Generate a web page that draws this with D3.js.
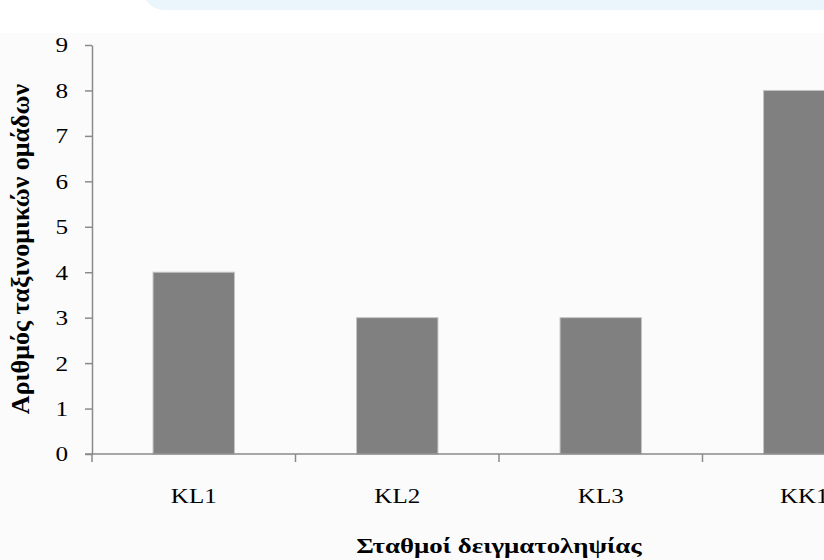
<!DOCTYPE html>
<html>
<head>
<meta charset="utf-8">
<script src="https://cdn.jsdelivr.net/npm/d3@7"></script>
<style>
  body { margin: 0; background: #ffffff; }
  svg { display: block; }
</style>
</head>
<body>
<div id="chart"></div>
<script>
(function () {
    // data
    var stations = ["KL1", "KL2", "KL3", "KK1"];
    var taxaCount = [4, 3, 3, 8];
    var yTickValues = [0, 1, 2, 3, 4, 5, 6, 7, 8, 9];
    var xTitle = "Σταθμοί δειγματοληψίας";
    var yTitle = "Αριθμός ταξινομικών ομάδων";

    var width = 824, height = 560;
    var left = 92, right = 906, top = 45, bottom = 454;
    var stretch = 1.25; // the source picture is widened a bit
    var serif = "Liberation Serif, Times New Roman, serif";

    var svg = d3.select("#chart")
        .append("svg")
        .attr("width", width)
        .attr("height", height);

    // page background + bit of blue banner at the top
    svg.append("rect").attr("x", 0).attr("y", 33).attr("width", width).attr("height", height - 33)
        .attr("fill", "#fbfbfb");
    svg.append("rect").attr("x", 143).attr("y", -30).attr("width", 720).attr("height", 40)
        .attr("rx", 22).attr("fill", "#eaf6fc");

    var x = d3.scaleBand().domain(stations).range([left, right])
        .paddingInner(0.6).paddingOuter(0.3);
    var y = d3.scaleLinear().domain([0, 9]).range([bottom, top]);

    var data = stations.map(function (d, i) {
        return { station: d, value: taxaCount[i] };
    });

    // bars
    svg.append("g").selectAll("rect")
        .data(data)
        .join("rect")
        .attr("x", d => x(d.station))
        .attr("y", d => y(d.value))
        .attr("width", x.bandwidth())
        .attr("height", d => y(0) - y(d.value))
        .attr("fill", "#808080")
        .attr("stroke", "#c4c4c4")
        .attr("stroke-width", 1);

    var axisColor = "#8a8a8a";

    // y axis
    var yAxis = svg.append("g")
        .attr("transform", "translate(" + left + ",0)")
        .call(d3.axisLeft(y).tickValues(yTickValues).tickSize(7).tickFormat(d3.format("d")).tickSizeOuter(0));
    yAxis.select(".domain").attr("stroke", axisColor).attr("stroke-width", 1.5);
    yAxis.selectAll(".tick line").attr("stroke", axisColor).attr("stroke-width", 1.5);
    yAxis.selectAll(".tick text").remove();

    yAxis.selectAll(".tick").append("text")
        .attr("transform", "translate(-24,0) scale(1.2,1)")
        .attr("text-anchor", "end")
        .attr("dy", "0.33em")
        .attr("font-family", serif)
        .attr("font-size", 21)
        .attr("fill", "#000")
        .text(d => d);

    // x axis: baseline + ticks between categories
    var xAxis = svg.append("g");
    xAxis.append("line")
        .attr("x1", left - 7).attr("x2", width)
        .attr("y1", y(0)).attr("y2", y(0))
        .attr("stroke", axisColor).attr("stroke-width", 1.5);
    var bounds = d3.range(stations.length + 1).map(i => left + i * x.step());
    xAxis.selectAll("line.tk")
        .data(bounds)
        .join("line")
        .attr("class", "tk")
        .attr("x1", d => d).attr("x2", d => d)
        .attr("y1", y(0)).attr("y2", y(0) + 8)
        .attr("stroke", axisColor).attr("stroke-width", 1.5);

    xAxis.selectAll("text")
        .data(stations)
        .join("text")
        .attr("transform", d => "translate(" + (x(d) + x.bandwidth() / 2) + ",503) scale(" + stretch + ",1)")
        .attr("text-anchor", "middle")
        .attr("font-family", serif)
        .attr("font-size", 20)
        .attr("fill", "#000")
        .text(d => d);

    // titles
    svg.append("text")
        .attr("transform", "translate(" + ((left + right) / 2) + ",553) scale(" + stretch + ",1)")
        .attr("text-anchor", "middle")
        .attr("font-family", serif)
        .attr("font-weight", "bold")
        .attr("font-size", 21.5)
        .attr("fill", "#000")
        .text(xTitle);

    svg.append("text")
        .attr("transform", "translate(29,249) rotate(-90)")
        .attr("text-anchor", "middle")
        .attr("font-family", serif)
        .attr("font-weight", "bold")
        .attr("font-size", 26)
        .attr("fill", "#000")
        .text(yTitle);
})();
</script>
</body>
</html>
